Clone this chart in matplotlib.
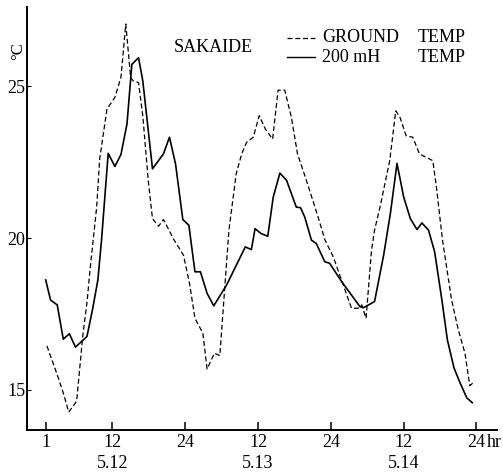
import matplotlib
matplotlib.use('Agg')
import matplotlib.pyplot as plt
from matplotlib.lines import Line2D

# ===================================================================
# DATA (hours counted from 5.12 01:00)
# ===================================================================

# 200 mH temperature (solid line)
air_hours = [1.0, 1.8, 2.9, 3.9, 4.9, 5.9, 7.8, 8.7, 9.6, 10.2, 11.3, 12.4, 13.4,
             14.4, 15.2, 16.3, 17.0, 18.6, 20.4, 21.4, 22.4, 23.6, 24.6, 25.6,
             26.5, 27.6, 28.7, 30.8, 33.9, 34.9, 35.5, 36.5, 37.6, 38.5, 39.6,
             40.7, 42.3, 43.0, 43.7, 44.8, 45.6, 47.0, 47.8, 49.8, 52.8, 53.4,
             55.2, 56.7, 57.8, 58.9, 60.0, 61.1, 62.2, 63.0, 64.1, 65.1, 66.3,
             67.2, 68.3, 69.3, 70.4, 71.3]
air_temp = [18.62, 17.96, 17.80, 16.67, 16.85, 16.41, 16.76, 17.63, 18.62, 19.93,
            22.79, 22.36, 22.75, 23.76, 25.72, 25.94, 25.18, 22.28, 22.77, 23.32,
            22.44, 20.61, 20.42, 18.89, 18.89, 18.18, 17.77, 18.45, 19.71, 19.62,
            20.31, 20.15, 20.06, 21.35, 22.14, 21.90, 21.02, 21.00, 20.69, 19.93,
            19.82, 19.22, 19.17, 18.56, 17.74, 17.71, 17.91, 19.44, 20.80, 22.46,
            21.35, 20.64, 20.28, 20.50, 20.26, 19.55, 17.96, 16.65, 15.72, 15.23,
            14.74, 14.58]

# ground temperature (dashed line)
ground_hours = [1.2, 2.9, 3.9, 4.8, 6.1, 7.1, 7.85, 8.3, 9.0, 9.4, 9.9, 11.1, 12.4,
                13.4, 14.2, 15.0, 15.4, 16.3, 17.0, 17.9, 18.6, 19.6, 20.4, 21.2,
                22.0, 23.7, 24.7, 25.6, 26.9, 27.6, 28.8, 29.7, 31.2, 32.4, 33.3,
                34.1, 35.2, 36.2, 37.2, 38.4, 39.3, 40.4, 41.5, 42.5, 43.6, 44.5,
                45.9, 47.0, 48.4, 51.4, 52.5, 53.1, 53.8, 54.7, 55.2, 56.1, 57.7,
                58.7, 59.4, 60.4, 61.5, 62.6, 64.8, 65.4, 66.4, 67.9, 69.0, 70.1,
                70.9, 71.7]
ground_temp = [16.45, 15.50, 14.90, 14.27, 14.63, 16.76, 17.96, 18.95, 20.26, 21.02,
               22.61, 24.25, 24.63, 25.29, 27.05, 25.29, 25.18, 25.12, 24.03, 21.90,
               20.64, 20.39, 20.61, 20.31, 19.99, 19.44, 18.51, 17.36, 16.87, 15.69,
               16.21, 16.13, 20.26, 22.12, 22.77, 23.15, 23.32, 24.03, 23.59, 23.26,
               24.87, 24.87, 23.97, 22.77, 22.12, 21.57, 20.69, 19.95, 19.38, 17.69,
               17.69, 17.80, 17.36, 19.60, 20.26, 21.02, 22.55, 24.19, 23.97, 23.37,
               23.32, 22.77, 22.55, 21.68, 19.93, 17.96, 16.98, 16.21, 15.14, 15.28]

tick_hours = [1, 12, 24, 36, 48, 60, 72]
tick_labels = ['1', '12', '24', '12', '24', '12', '24']
date_hours = [12, 36, 60]
date_labels = ['5.12', '5.13', '5.14']
y_ticks = [15, 20, 25]

FONT = 'Liberation Serif'
DASHES = (0, (4.0, 2.2))

# ===================================================================
# PLOT
# ===================================================================

fig = plt.figure(figsize=(5.03, 4.75), dpi=100)
ax = fig.add_axes([0.0537, 0.0947, 0.934, 0.890])

ax.plot(ground_hours, ground_temp, color='black', lw=0.9, linestyle=DASHES)
ax.plot(air_hours, air_temp, color='black', lw=1.2)

ax.set_xlim(-2.08, 75.35)
ax.set_ylim(13.68, 27.6)

ax.spines['top'].set_visible(False)
ax.spines['right'].set_visible(False)
for side in ('left', 'bottom'):
    ax.spines[side].set_linewidth(1.4)

ax.set_xticks(tick_hours)
ax.set_xticklabels(tick_labels, fontsize=13, family=FONT)
ax.set_yticks(y_ticks)
ax.set_yticklabels([str(v) for v in y_ticks], fontsize=13, family=FONT)
ax.tick_params(axis='x', direction='in', length=6, width=1.1, pad=3)
ax.tick_params(axis='y', direction='in', length=3, width=0.8, pad=1)

# "hr" after the last 24, on the tick label line
ax.text(73.65, -0.0095, 'hr', transform=ax.get_xaxis_transform(),
        fontsize=13, family=FONT, ha='left', va='top')

# dates under the noon ticks
for h, lab in zip(date_hours, date_labels):
    ax.text(h, -0.06, lab, transform=ax.get_xaxis_transform(),
            fontsize=13, family=FONT, ha='center', va='top')

# unit label
fig.text(0.037, 0.893, '°C', rotation=90, fontsize=12, family=FONT,
         ha='center', va='center')

# station name + hand-made legend
fig.text(174 / 503, 1 - 47 / 475, 'SAKAIDE', fontsize=13, family=FONT,
         ha='left', va='center')
fig.add_artist(Line2D([287 / 503, 315 / 503], [1 - 38 / 475] * 2,
                      color='black', lw=0.9, linestyle=DASHES))
fig.add_artist(Line2D([287 / 503, 315 / 503], [1 - 57 / 475] * 2,
                      color='black', lw=1.0))
fig.text(322 / 503, 1 - 38 / 475, 'GROUND', fontsize=13, family=FONT,
         ha='left', va='center')
fig.text(322 / 503, 1 - 57 / 475, '200 mH', fontsize=13, family=FONT,
         ha='left', va='center')
fig.text(418 / 503, 1 - 38 / 475, 'TEMP', fontsize=13, family=FONT,
         ha='left', va='center')
fig.text(418 / 503, 1 - 57 / 475, 'TEMP', fontsize=13, family=FONT,
         ha='left', va='center')

fig.savefig('out.png', dpi=100)
plt.close(fig)
